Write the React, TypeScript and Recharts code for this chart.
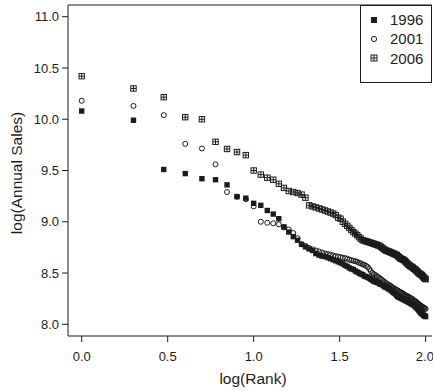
import React from 'react'
import { Legend, ReferenceLine, Scatter, ScatterChart, XAxis, YAxis } from 'recharts'

// log(Annual Sales), one value per rank (rank 1..100)
const sales1996 = [
  10.08, 9.99, 9.51, 9.47, 9.42, 9.41, 9.36, 9.245, 9.23, 9.18,
  9.16, 9.11, 9.075, 9.03, 8.95, 8.9, 8.855, 8.82, 8.78, 8.755,
  8.735, 8.72, 8.69, 8.675, 8.665, 8.66, 8.65, 8.64, 8.63, 8.62,
  8.61, 8.6, 8.59, 8.575, 8.565, 8.55, 8.54, 8.535, 8.52, 8.51,
  8.5, 8.49, 8.485, 8.47, 8.465, 8.46, 8.45, 8.44, 8.43, 8.42,
  8.415, 8.41, 8.405, 8.395, 8.39, 8.385, 8.375, 8.365, 8.36, 8.355,
  8.345, 8.34, 8.33, 8.32, 8.31, 8.305, 8.295, 8.28, 8.27, 8.265,
  8.26, 8.255, 8.25, 8.245, 8.24, 8.235, 8.23, 8.225, 8.22, 8.215,
  8.21, 8.205, 8.2, 8.195, 8.19, 8.185, 8.175, 8.165, 8.16, 8.15,
  8.14, 8.13, 8.12, 8.11, 8.105, 8.1, 8.09, 8.085, 8.08, 8.075,
]

const sales2001 = [
  10.18, 10.13, 10.04, 9.76, 9.715, 9.56, 9.29, 9.245, 9.22, 9.15,
  9.0, 8.99, 8.985, 8.975, 8.945, 8.925, 8.89, 8.84, 8.78, 8.765,
  8.745, 8.73, 8.72, 8.71, 8.7, 8.69, 8.685, 8.68, 8.67, 8.665,
  8.66, 8.655, 8.65, 8.645, 8.64, 8.63, 8.625, 8.62, 8.615, 8.61,
  8.6, 8.595, 8.585, 8.58, 8.57, 8.56, 8.54, 8.52, 8.5, 8.49,
  8.48, 8.47, 8.46, 8.45, 8.44, 8.43, 8.42, 8.41, 8.4, 8.39,
  8.385, 8.38, 8.37, 8.36, 8.355, 8.345, 8.34, 8.335, 8.33, 8.32,
  8.315, 8.31, 8.305, 8.3, 8.29, 8.285, 8.28, 8.275, 8.27, 8.265,
  8.26, 8.255, 8.25, 8.245, 8.235, 8.23, 8.225, 8.22, 8.21, 8.205,
  8.2, 8.19, 8.185, 8.18, 8.175, 8.17, 8.165, 8.16, 8.155, 8.15,
]

const sales2006 = [
  10.42, 10.3, 10.215, 10.02, 10.0, 9.78, 9.71, 9.68, 9.65, 9.5,
  9.46, 9.43, 9.41, 9.37, 9.33, 9.3, 9.29, 9.28, 9.265, 9.235,
  9.16, 9.15, 9.14, 9.13, 9.12, 9.11, 9.1, 9.09, 9.08, 9.065,
  9.04, 9.03, 9.0, 8.98, 8.96, 8.94, 8.92, 8.9, 8.885, 8.87,
  8.85, 8.835, 8.82, 8.815, 8.81, 8.805, 8.8, 8.795, 8.79, 8.785,
  8.78, 8.775, 8.77, 8.765, 8.755, 8.745, 8.735, 8.725, 8.72, 8.715,
  8.71, 8.705, 8.7, 8.695, 8.69, 8.685, 8.68, 8.675, 8.665, 8.655,
  8.645, 8.64, 8.635, 8.63, 8.625, 8.615, 8.605, 8.595, 8.585, 8.58,
  8.57, 8.565, 8.56, 8.555, 8.545, 8.54, 8.535, 8.525, 8.52, 8.51,
  8.5, 8.495, 8.49, 8.485, 8.48, 8.47, 8.46, 8.455, 8.445, 8.44,
]

const xTicks = [0, 0.5, 1, 1.5, 2]
const yTicks = [8, 8.5, 9, 9.5, 10, 10.5, 11]
const seriesNames = ['1996', '2001', '2006']

const ink = '#1c1c1c'
const font = '"Liberation Sans", Arial, sans-serif'

// x is log10 of the rank (rank = position in the list)
const toPoints = (values: number[]) =>
  values.map((v, i) => ({ logRank: Math.log10(i + 1), logSales: v }))

const FilledSquare = ({ cx, cy, s = 5.4 }: any) => (
  <rect x={cx - s / 2} y={cy - s / 2} width={s} height={s} fill={ink} />
)

const OpenCircle = ({ cx, cy, r = 2.5 }: any) => (
  <circle cx={cx} cy={cy} r={r} fill="none" stroke={ink} strokeWidth={1} />
)

const PlusSquare = ({ cx, cy, s = 5.4 }: any) => (
  <g stroke={ink} strokeWidth={1} fill="none">
    <rect x={cx - s / 2} y={cy - s / 2} width={s} height={s} />
    <line x1={cx - s / 2} x2={cx + s / 2} y1={cy} y2={cy} />
    <line x1={cx} x2={cx} y1={cy - s / 2} y2={cy + s / 2} />
  </g>
)

const markers = [FilledSquare, OpenCircle, PlusSquare]

const LegendBox = () => (
  <div
    style={{
      width: 72,
      height: 78,
      boxSizing: 'border-box',
      border: `1px solid ${ink}`,
      background: '#fff',
      paddingTop: 4,
      fontFamily: font,
      fontSize: 15,
      color: ink,
    }}
  >
    {seriesNames.map((name, i) => {
      const Marker = markers[i]
      return (
        <div key={name} style={{ height: 19.3, display: 'flex', alignItems: 'center' }}>
          <svg width={10} height={10} style={{ marginLeft: 8 }}>
            <Marker cx={5} cy={5} s={6} r={2.6} />
          </svg>
          <span style={{ marginLeft: 11, lineHeight: '15px' }}>{name}</span>
        </div>
      )
    })}
  </div>
)

const XTitle = () => (
  <text x={253} y={384} textAnchor="middle" fontSize={15.5} fill={ink} fontFamily={font}>
    log(Rank)
  </text>
)

const YTitle = () => (
  <text
    transform="translate(21.5,173) rotate(-90)"
    textAnchor="middle"
    fontSize={15.5}
    fill={ink}
    fontFamily={font}
  >
    log(Annual Sales)
  </text>
)

const tickStyle = { fill: ink, fontSize: 13, fontFamily: font }

export default function App() {
  const series = [sales1996, sales2001, sales2006]
  return (
    <div style={{ position: 'absolute', left: 0, top: 0, background: '#fff' }}>
      <ScatterChart
        width={433}
        height={391}
        margin={{ top: 5, right: 1, bottom: 0, left: 0 }}
        style={{ fontFamily: font }}
      >
        <XAxis
          type="number"
          dataKey="logRank"
          domain={[-0.0797, 2.037]}
          ticks={xTicks}
          tickFormatter={(v: number) => v.toFixed(1)}
          height={55}
          tickSize={6}
          tickMargin={10}
          tick={tickStyle}
          axisLine={{ stroke: ink }}
          tickLine={{ stroke: ink }}
          allowDataOverflow
          label={<XTitle />}
        />
        <YAxis
          type="number"
          dataKey="logSales"
          domain={[7.886, 11.114]}
          ticks={yTicks}
          tickFormatter={(v: number) => v.toFixed(1)}
          width={68}
          tickSize={6}
          tickMargin={3}
          tick={tickStyle}
          axisLine={{ stroke: ink }}
          tickLine={{ stroke: ink }}
          allowDataOverflow
          label={<YTitle />}
        />
        <ReferenceLine y={11.114} stroke={ink} />
        {series.map((values, i) => (
          <Scatter
            key={seriesNames[i]}
            name={seriesNames[i]}
            data={toPoints(values)}
            shape={markers[i]}
            isAnimationActive={false}
          />
        ))}
        <Legend
          layout="horizontal"
          verticalAlign="middle"
          align="center"
          content={() => <LegendBox />}
          wrapperStyle={{ left: 360, top: 5, width: 72, height: 78 }}
        />
      </ScatterChart>
    </div>
  )
}
